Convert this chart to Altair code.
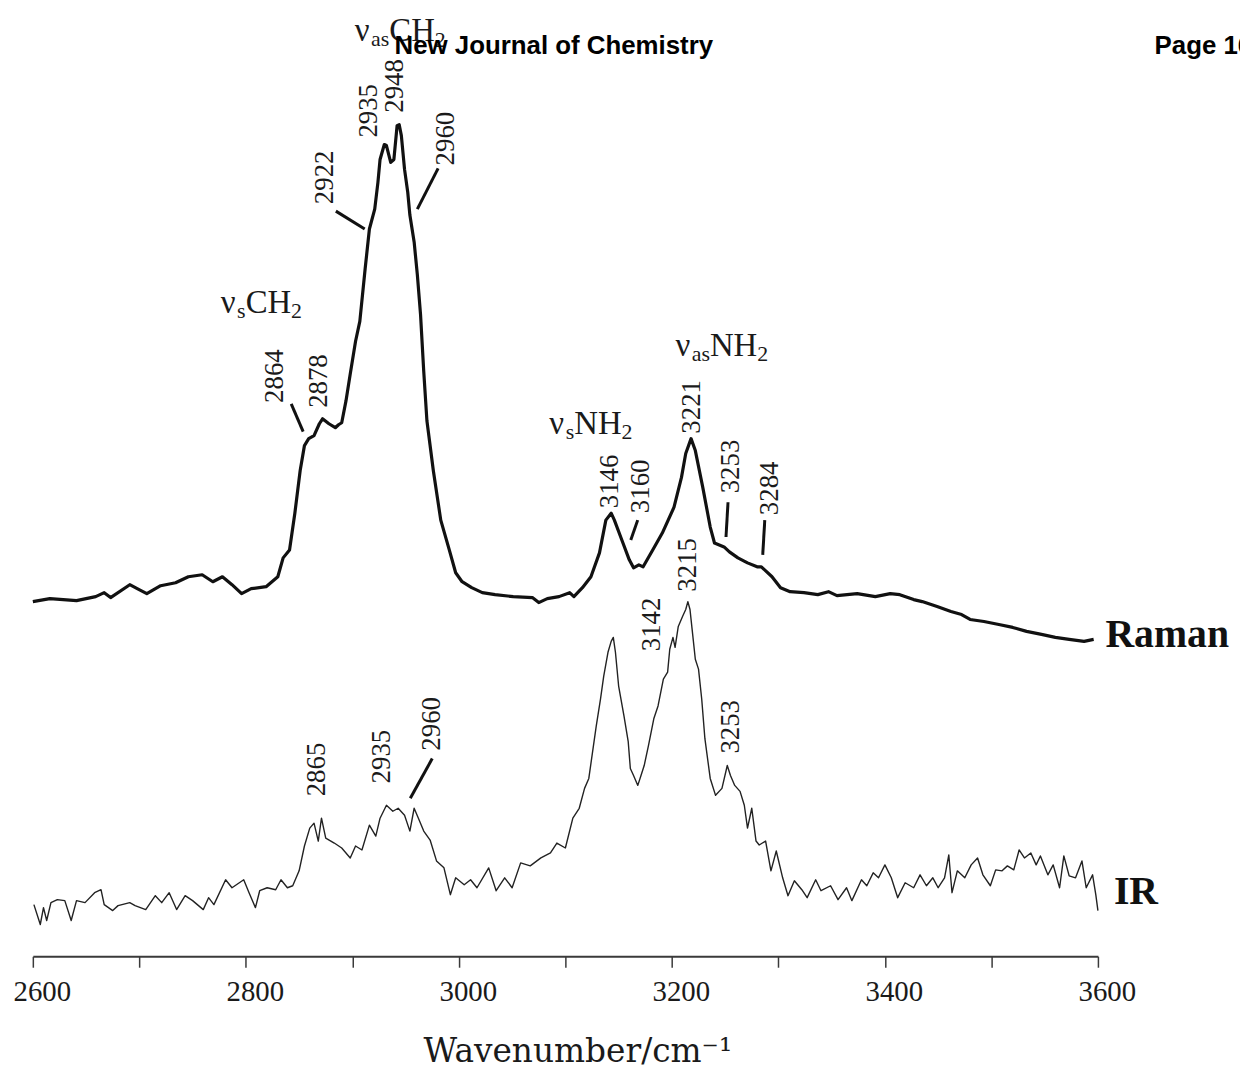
import altair as alt
import pandas as pd

# ---------------- data ----------------
raman_wn = [2600, 2616, 2641, 2659, 2667, 2673, 2691, 2698, 2707, 2720,
            2734, 2746, 2759, 2769, 2778, 2787, 2796, 2805, 2819, 2830,
            2835, 2841, 2846, 2851, 2855, 2859, 2864, 2869, 2872, 2878,
            2884, 2887, 2890, 2894, 2898, 2903, 2907, 2912, 2916, 2921,
            2924, 2926, 2930, 2932, 2936, 2939, 2942, 2944, 2946, 2949,
            2952, 2954, 2958, 2961, 2964, 2967, 2970, 2976, 2983, 2991,
            2997, 3003, 3012, 3022, 3034, 3051, 3069, 3075, 3083, 3094,
            3104, 3108, 3116, 3124, 3132, 3138, 3143, 3146, 3153, 3160,
            3164, 3169, 3173, 3182, 3191, 3202, 3209, 3213, 3218, 3222,
            3229, 3236, 3240, 3249, 3254, 3262, 3271, 3280, 3284, 3294,
            3302, 3311, 3324, 3337, 3347, 3355, 3374, 3391, 3405, 3414,
            3427, 3435, 3449, 3462, 3472, 3480, 3493, 3507, 3520, 3533,
            3547, 3560, 3573, 3587, 3596]
raman_int = [357, 360, 358, 362, 366, 361, 374, 370, 365, 373,
             376, 382, 384, 377, 382, 374, 365, 370, 372, 382,
             401, 409, 446, 489, 514, 521, 524, 536, 541, 536,
             532, 535, 537, 559, 586, 619, 639, 692, 732, 752,
             779, 802, 817, 816, 799, 802, 836, 837, 826, 792,
             769, 746, 719, 686, 646, 589, 539, 489, 439, 409,
             386, 377, 371, 366, 364, 362, 361, 356, 360, 362,
             366, 362, 371, 382, 406, 439, 446, 439, 419, 399,
             391, 394, 392, 409, 426, 452, 482, 506, 521, 509,
             472, 432, 416, 412, 407, 401, 396, 392, 392, 382,
             371, 367, 366, 364, 367, 363, 365, 362, 365, 364,
             359, 357, 352, 347, 344, 339, 337, 334, 331, 327,
             324, 321, 319, 317, 319]

ir_wn = [2601, 2607, 2610, 2613, 2617, 2623, 2630, 2636, 2641, 2649,
         2658, 2664, 2667, 2675, 2680, 2691, 2696, 2706, 2715, 2721,
         2728, 2735, 2743, 2750, 2760, 2765, 2770, 2781, 2787, 2798,
         2803, 2809, 2813, 2820, 2828, 2833, 2839, 2844, 2850, 2855,
         2860, 2864, 2868, 2871, 2875, 2883, 2890, 2898, 2903, 2909,
         2916, 2922, 2926, 2932, 2938, 2943, 2949, 2954, 2958, 2962,
         2967, 2973, 2979, 2986, 2992, 2997, 3005, 3011, 3017, 3028,
         3035, 3043, 3050, 3058, 3067, 3077, 3086, 3092, 3100, 3107,
         3113, 3118, 3122, 3129, 3133, 3136, 3140, 3143, 3145, 3147,
         3150, 3155, 3159, 3161, 3164, 3168, 3171, 3174, 3178, 3183,
         3187, 3192, 3196, 3198, 3201, 3203, 3206, 3210, 3213, 3215,
         3217, 3219, 3222, 3225, 3228, 3231, 3236, 3241, 3247, 3252,
         3255, 3259, 3264, 3268, 3271, 3275, 3279, 3282, 3288, 3293,
         3298, 3304, 3309, 3315, 3322, 3327, 3335, 3340, 3349, 3356,
         3364, 3369, 3378, 3383, 3389, 3394, 3400, 3406, 3412, 3419,
         3427, 3433, 3439, 3445, 3450, 3456, 3460, 3463, 3468, 3475,
         3481, 3487, 3492, 3499, 3504, 3510, 3515, 3521, 3526, 3531,
         3537, 3542, 3546, 3553, 3558, 3564, 3568, 3573, 3579, 3585,
         3589, 3595, 3598, 3600]
ir_int = [52, 32, 49, 36, 54, 57, 56, 36, 56, 54,
          64, 67, 52, 46, 51, 54, 51, 47, 61, 54,
          64, 47, 61, 56, 47, 59, 52, 77, 69, 77,
          64, 49, 66, 69, 67, 77, 69, 71, 86, 111,
          129, 134, 116, 139, 119, 114, 109, 99, 111, 107,
          132, 121, 139, 152, 146, 149, 142, 126, 149, 139,
          126, 117, 96, 89, 62, 79, 72, 77, 69, 89,
          66, 79, 69, 94, 91, 99, 104, 114, 109, 139,
          149, 169, 179, 232, 259, 282, 306, 317, 321, 306,
          272, 242, 216, 189, 182, 172, 182, 192, 212, 239,
          252, 279, 286, 309, 321, 311, 332, 342, 349, 357,
          349, 329, 299, 289, 259, 219, 179, 162, 169, 192,
          182, 172, 166, 152, 129, 149, 116, 112, 116, 86,
          106, 79, 61, 76, 67, 59, 77, 66, 71, 57,
          69, 56, 77, 71, 84, 79, 92, 79, 59, 74,
          69, 82, 71, 79, 69, 79, 102, 64, 86, 79,
          92, 99, 82, 71, 87, 86, 91, 87, 107, 99,
          104, 92, 101, 82, 92, 69, 101, 81, 79, 96,
          69, 82, 62, 46]

# rotated peak labels (anchor = lower end of the text)
peak_text = ["2922", "2935", "2948", "2960", "2864", "2878", "3146", "3160",
             "3221", "3253", "3284", "2865", "2935", "2960", "3142", "3215", "3253"]
peak_wn = [2874, 2916, 2940.5, 2988, 2827, 2869, 3142, 3171,
           3219, 3255.5, 3292, 2867, 2928, 2975, 3181, 3215.5, 3255.5]
peak_int = [757, 824, 849, 796, 557, 552, 451, 446,
            526, 466, 444, 161, 174, 207, 307, 367, 204]

# leader lines
lead_wn1 = [2884.5, 2980.5, 2842.6, 3167.9, 3252.7, 3287.2, 2975.0]
lead_int1 = [750, 793, 556, 439, 457, 439, 199]
lead_wn2 = [2911.6, 2961.0, 2853.8, 3161.4, 3250.8, 3285.3, 2954.4]
lead_int2 = [732, 752, 528, 419, 422, 404, 159]

# vibrational mode labels (main glyphs and subscripts)
mode_main_text = ["\u03bd", "CH", "\u03bd", "CH", "\u03bd", "NH", "\u03bd", "NH"]
mode_main_wn = [2902.2, 2934.7, 2776.4, 2799.8, 3084.9, 3108.3, 3203.3, 3235.7]
mode_main_int = [921, 921, 647, 647, 526, 526, 604, 604]
mode_sub_text = ["as", "2", "s", "2", "s", "2", "as", "2"]
mode_sub_wn = [2917.6, 2977.4, 2791.8, 2842.5, 3100.3, 3152.8, 3218.7, 3280.2]
mode_sub_int = [916, 915, 642, 642, 521, 521, 599, 599]

# series names
series_text = ["Raman", "IR"]
series_wn = [3607, 3615]
series_int = [311, 53]

axis_ticks = [2600, 2700, 2800, 2900, 3000, 3100, 3200, 3300, 3400, 3500, 3600]
header_left = "New Journal of Chemistry"
header_right = "Page 16"

# ---------------- tables ----------------
raman_df = pd.DataFrame({"wn": raman_wn, "int": raman_int})
ir_df = pd.DataFrame({"wn": ir_wn, "int": ir_int})
peak_df = pd.DataFrame({"wn": peak_wn, "int": peak_int, "t": peak_text})
lead_df = pd.DataFrame({"wn": lead_wn1, "int": lead_int1, "wn2": lead_wn2, "int2": lead_int2})
main_df = pd.DataFrame({"wn": mode_main_wn, "int": mode_main_int, "t": mode_main_text})
sub_df = pd.DataFrame({"wn": mode_sub_wn, "int": mode_sub_int, "t": mode_sub_text})
series_df = pd.DataFrame({"wn": series_wn, "int": series_int, "t": series_text})

INK = "#1a1a1a"

x_enc = alt.X(
    "wn:Q",
    scale=alt.Scale(domain=[2600, 3600], nice=False, zero=False),
    axis=alt.Axis(
        values=axis_ticks, format="d",
        labelExpr="datum.value % 200 == 0 ? datum.label : ''",
        title="Wavenumber/cm\u207b\u00b9",
        grid=False,
        domainColor="#3a3a3a", domainWidth=2,
        tickColor="#3a3a3a", tickWidth=1.5, tickSize=11,
        labelFont="Liberation Serif", labelFontSize=29, labelColor=INK,
        labelBaseline="alphabetic", labelPadding=33, labelOffset=9,
        labelFlush=False, labelOverlap=False, labelBound=False,
        titleFont="DejaVu Serif", titleFontSize=33, titleFontWeight="normal",
        titleColor=INK, titleBaseline="alphabetic", titleAlign="center",
        titleX=548, titleY=106,
    ),
)
y_enc = alt.Y("int:Q", scale=alt.Scale(domain=[0, 951], nice=False, zero=False), axis=None)

raman = alt.Chart(raman_df).mark_line(color="#111111", strokeWidth=3.2, strokeJoin="round").encode(
    x=x_enc, y=y_enc, order="wn:Q")
ir = alt.Chart(ir_df).mark_line(color="#222222", strokeWidth=1.4, strokeJoin="round").encode(
    x=x_enc, y=y_enc, order="wn:Q")
leaders = alt.Chart(lead_df).mark_rule(color="#111111", strokeWidth=3).encode(
    x=x_enc, y=y_enc, x2="wn2:Q", y2="int2:Q")
peaks = alt.Chart(peak_df).mark_text(
    angle=270, align="left", baseline="middle",
    font="Liberation Serif", fontSize=27, color=INK).encode(x=x_enc, y=y_enc, text="t:N")
mode_main = alt.Chart(main_df).mark_text(
    align="left", baseline="alphabetic",
    font="Liberation Serif", fontSize=33, color=INK).encode(x=x_enc, y=y_enc, text="t:N")
mode_sub = alt.Chart(sub_df).mark_text(
    align="left", baseline="alphabetic",
    font="Liberation Serif", fontSize=22, color=INK).encode(x=x_enc, y=y_enc, text="t:N")
series = alt.Chart(series_df).mark_text(
    align="left", baseline="alphabetic",
    font="Liberation Serif", fontSize=40, fontWeight="bold", color="#111111").encode(
    x=x_enc, y=y_enc, text="t:N")

head_l = alt.Chart(pd.DataFrame({"t": [header_left]})).mark_text(
    align="left", baseline="alphabetic", font="Liberation Sans", fontSize=26,
    fontWeight="bold", color="#000000").encode(
    text="t:N", x=alt.value(364), y=alt.value(43))
head_r = alt.Chart(pd.DataFrame({"t": [header_right]})).mark_text(
    align="left", baseline="alphabetic", font="Liberation Sans", fontSize=26,
    fontWeight="bold", color="#000000").encode(
    text="t:N", x=alt.value(1129), y=alt.value(43))

chart = alt.layer(
    raman, ir, leaders, peaks, mode_main, mode_sub, series, head_l, head_r
).properties(
    width=1072, height=951,
    padding={"left": 25, "top": 0, "right": 143, "bottom": 111},
    autosize=alt.AutoSizeParams(type="none"),
    background="white",
).configure_view(stroke=None)

chart.save("out.html", embed_options={"renderer": "svg", "actions": False})
